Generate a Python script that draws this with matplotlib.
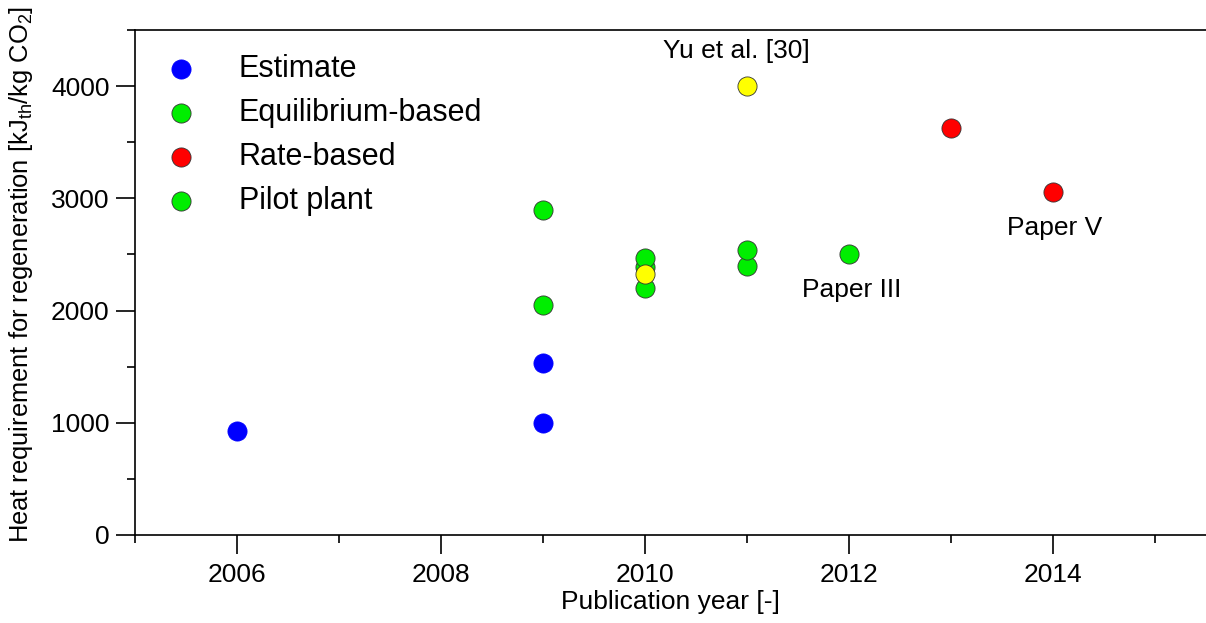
import numpy as np
import matplotlib.pyplot as plt
from matplotlib.ticker import MultipleLocator

plt.rcParams['font.family'] = ['Liberation Sans', 'DejaVu Sans']
plt.rcParams['mathtext.fontset'] = 'custom'
plt.rcParams['mathtext.rm'] = 'Liberation Sans'
plt.rcParams['mathtext.it'] = 'Liberation Sans'

# data
estimate_year = [2006, 2009, 2009]
estimate_heat = [930, 1000, 1535]

equil_year = [2009, 2009, 2010, 2010, 2010]
equil_heat = [2050, 2900, 2200, 2385, 2465]

rate_year = [2013, 2014]
rate_heat = [3630, 3060]

pilot_year = [2011, 2011, 2012]
pilot_heat = [2395, 2540, 2500]

other_year = [2010, 2011]
other_heat = [2330, 4000]

notes = ['Yu et al. [30]', 'Paper III', 'Paper V']
note_x = [2010.9, 2012.03, 2014.02]
note_y = [4310, 2180, 2740]

fig = plt.figure(figsize=(12.06, 6.23), dpi=100)
ax = fig.add_axes([0.112, 0.1413, 0.888, 0.8105])

ms = 190
edge = dict(edgecolors='#333333', linewidths=0.6, zorder=3)
ax.scatter(estimate_year, estimate_heat, s=ms, c='#0000ff', label='Estimate',
           edgecolors='#0000ff', linewidths=0.6, zorder=3)
ax.scatter(equil_year, equil_heat, s=ms, c='#00ee00', label='Equilibrium-based', **edge)
ax.scatter(rate_year, rate_heat, s=ms, c='#ff0000', label='Rate-based', **edge)
ax.scatter(pilot_year, pilot_heat, s=ms, c='#00ee00', label='Pilot plant', **edge)
ax.scatter(other_year, other_heat, s=ms, c='#ffff00', label='_nolegend_', **edge)

for t, x, y in zip(notes, note_x, note_y):
    ax.text(x, y, t, fontsize=19, ha='center', va='center')

ax.set_xlim(2005, 2015.5)
ax.set_ylim(0, 4500)
ax.xaxis.set_major_locator(MultipleLocator(2))
ax.xaxis.set_minor_locator(MultipleLocator(1))
ax.yaxis.set_major_locator(MultipleLocator(1000))
ax.yaxis.set_minor_locator(MultipleLocator(500))
ax.tick_params(which='major', length=13.5, width=1.2, labelsize=19, direction='out')
ax.tick_params(which='minor', length=5.5, width=1.2, direction='out')
ax.tick_params(axis='x', pad=7)
ax.tick_params(axis='y', pad=5)

ax.spines['right'].set_visible(False)
for s in ['left', 'bottom', 'top']:
    ax.spines[s].set_linewidth(1.2)

ax.set_xlabel('Publication year [-]', fontsize=19, labelpad=2)
ax.set_ylabel('Heat requirement for regeneration [kJ$_{th}$/kg CO$_2$]', fontsize=18.4, labelpad=9)
ax.yaxis.set_label_coords(-0.093, 0.515)

ax.legend(loc='upper left', frameon=False, fontsize=22, handlelength=1.0,
          handletextpad=1.37, labelspacing=0.46, borderpad=0, borderaxespad=0,
          bbox_to_anchor=(0.029, 0.952))

fig.savefig('out.png', dpi=100)
